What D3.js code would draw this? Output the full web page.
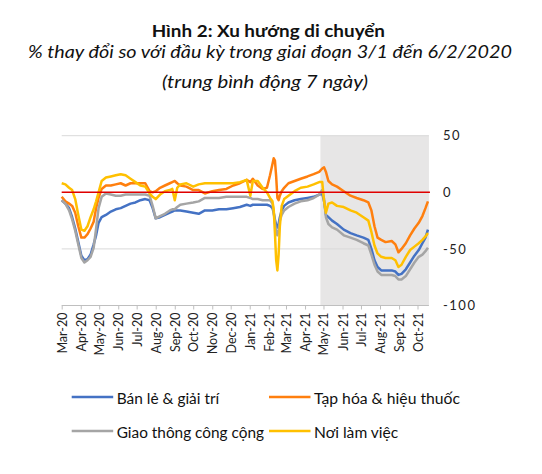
<!DOCTYPE html>
<html>
<head>
<meta charset="utf-8">
<script src="https://cdn.jsdelivr.net/npm/d3@7"></script>
<style>
  html, body { margin: 0; padding: 0; background: #fff; }
  svg { display: block; font-family: Lato, "Noto Sans", sans-serif; }
</style>
</head>
<body>
<svg id="chart" width="542" height="474"></svg>
<script>
// ---------------- DATA ----------------
const dates = [
 "2020-03-01","2020-03-07","2020-03-13","2020-03-18","2020-03-23","2020-03-28","2020-04-02","2020-04-07",
 "2020-04-12","2020-04-17","2020-04-22","2020-04-26","2020-04-30","2020-05-05","2020-05-12","2020-05-20",
 "2020-05-28","2020-06-05","2020-06-13","2020-06-21","2020-06-29","2020-07-07","2020-07-15","2020-07-22",
 "2020-07-27","2020-08-01","2020-08-08","2020-08-16","2020-08-24","2020-08-28","2020-09-01","2020-09-05",
 "2020-09-10","2020-09-20","2020-10-01","2020-10-10","2020-10-20","2020-11-01","2020-11-12","2020-11-24",
 "2020-12-05","2020-12-16","2020-12-27","2021-01-02","2021-01-06","2021-01-14","2021-01-22","2021-01-29",
 "2021-02-03","2021-02-07","2021-02-09","2021-02-11","2021-02-13","2021-02-15","2021-02-17","2021-02-19",
 "2021-02-22","2021-02-26","2021-03-05","2021-03-15","2021-03-25","2021-04-05","2021-04-15","2021-04-24",
 "2021-04-29","2021-05-02","2021-05-05","2021-05-09","2021-05-15","2021-05-23","2021-06-03","2021-06-14",
 "2021-06-24","2021-07-05","2021-07-13","2021-07-18","2021-07-23","2021-07-28","2021-08-03","2021-08-10",
 "2021-08-20","2021-08-26","2021-08-31","2021-09-05","2021-09-12","2021-09-19","2021-09-26","2021-10-03",
 "2021-10-09","2021-10-14","2021-10-18"
];
const retail = [
 -7,-10,-14,-22,-32,-44,-56,-60, -59,-55,-46,-38,-27,-22,-20,-17,
 -15,-14,-12,-10,-9,-7,-6,-7, -14,-23,-22,-20,-18,-17,-16,-16,
 -16,-17,-18,-19,-16,-16,-15,-15, -14,-13,-11,-12,-11,-11,-11,-11,
 -12,-14,-18,-24,-29,-31,-28,-22, -16,-12,-9,-7,-6,-5,-4,-2,
 -1,-8,-20,-22,-25,-28,-33,-36, -38,-40,-42,-50,-60,-66,-69,-69,
 -69,-70,-73,-72,-68,-62,-56,-51, -45,-40,-33
];
const grocery = [
 -4,-8,-10,-12,-18,-30,-40,-40, -37,-32,-26,-14,-5,3,6,6,
 7,8,6,8,8,8,8,1, 0,1,4,6,8,9,10,8,
 6,5,2,2,-1,1,2,3, 6,8,11,9,12,6,3,4,
 15,25,30,28,14,-5,-7,-3, 1,4,8,10,12,14,16,18,
 21,22,18,10,7,5,1,-3, -5,-7,-9,-16,-30,-40,-42,-44,
 -43,-46,-53,-50,-45,-38,-32,-27, -21,-14,-8
];
const transit = [
 -7,-10,-16,-24,-34,-46,-58,-62, -60,-57,-49,-32,-14,-4,-1,-2,
 -3,-3,-2,-2,-2,-2,-2,-3, -12,-23,-21,-19,-16,-15,-15,-13,
 -11,-10,-9,-8,-5,-5,-5,-4, -4,-4,-4,-5,-6,-6,-7,-7,
 -7,-10,-18,-27,-35,-38,-33,-25, -20,-16,-13,-10,-8,-7,-5,-2,
 2,-6,-22,-28,-31,-33,-38,-40, -42,-45,-47,-55,-64,-70,-73,-73,
 -73,-74,-77,-77,-74,-68,-62,-57, -55,-52,-49
];
const workplace = [
 8,7,4,2,-6,-20,-33,-34, -30,-22,-15,-8,0,10,13,14,
 15,16,15,12,9,6,5,-1, -4,-6,-2,1,2,3,-7,4,
 7,8,5,7,8,8,8,8, 8,9,11,-3,10,10,4,0,
 -5,-8,-15,-36,-60,-69,-55,-30, -12,-6,-3,1,4,5,7,9,
 9,-8,-18,-10,-9,-12,-13,-16, -18,-22,-25,-35,-47,-54,-57,-58,
 -58,-60,-66,-64,-57,-51,-48,-45, -42,-39,-36
];
const seriesNames = ["Bán lẻ & giải trí", "Tạp hóa & hiệu thuốc", "Giao thông công cộng", "Nơi làm việc"];
const seriesColors = ["#4472C4", "#FF7F0E", "#A5A5A5", "#FFC000"];
const xTickLabels = ["Mar-20","Apr-20","May-20","Jun-20","Jul-20","Aug-20","Sep-20","Oct-20","Nov-20","Dec-20",
 "Jan-21","Feb-21","Mar-21","Apr-21","May-21","Jun-21","Jul-21","Aug-21","Sep-21","Oct-21"];
const yTicks = [50, 0, -50, -100];
const shadeStart = "2021-04-26";
const titleText = "Hình 2: Xu hướng di chuyển";
const subtitle1 = "% thay đổi so với đầu kỳ trong giai đoạn 3/1 đến 6/2/2020";
const subtitle2 = "(trung bình động 7 ngày)";

// ---------------- CHART ----------------
const svg = d3.select("#chart");
const parse = d3.utcParse("%Y-%m-%d");
const parseTick = d3.utcParse("%b-%y");
const D = dates.map(parse);

const x = d3.scaleUtc()
  .domain([parseTick("Mar-20"), parseTick("Oct-21")])
  .range([61.7, 417.5]);
const y = d3.scaleLinear().domain([-100, 50]).range([305.5, 135.7]);

const xEnd = x(D[D.length - 1]) + 1;

// shaded region
svg.append("rect")
  .attr("x", x(parse(shadeStart)))
  .attr("y", y(50))
  .attr("width", xEnd - x(parse(shadeStart)))
  .attr("height", y(-100) - y(50))
  .attr("fill", "#e7e6e6");

// gridlines
svg.append("g").selectAll("line")
  .data(yTicks.filter(v => v !== -100))
  .join("line")
  .attr("x1", x.range()[0]).attr("x2", xEnd)
  .attr("y1", d => y(d)).attr("y2", d => y(d))
  .attr("stroke", "#d9d9d9").attr("stroke-width", 1);

// x axis
const tickDates = xTickLabels.map(parseTick);
const xAxis = d3.axisBottom(x)
  .tickValues(tickDates)
  .tickFormat((d, i) => xTickLabels[i])
  .tickSize(4)
  .tickSizeOuter(0);
const gx = svg.append("g").attr("transform", `translate(0,${y(-100)})`).call(xAxis);
gx.select(".domain").attr("d", `M${x.range()[0]},0H${xEnd}`).attr("stroke", "#bfbfbf");
gx.selectAll(".tick line").attr("stroke", "#bfbfbf");
gx.selectAll(".tick text")
  .attr("font-family", "Lato, sans-serif")
  .attr("font-size", 12.5)
  .attr("fill", "#222")
  .attr("text-anchor", "end")
  .attr("transform", "rotate(-90)")
  .attr("x", -7)
  .attr("y", 0)
  .attr("dy", "0.36em");

// y axis labels (right)
svg.append("g").selectAll("text")
  .data(yTicks)
  .join("text")
  .attr("x", 443)
  .attr("y", d => y(d))
  .attr("dy", "0.36em")
  .attr("font-size", 13)
  .attr("letter-spacing", 1.5)
  .attr("fill", "#222")
  .text(d => d);

// series lines
const allSeries = [retail, grocery, transit, workplace];
const line = d3.line().x((d, i) => x(D[i])).y(d => y(d)).curve(d3.curveLinear);
[0, 1, 2, 3].forEach(k => {
  svg.append("path")
    .datum(allSeries[k])
    .attr("d", line)
    .attr("fill", "none")
    .attr("stroke", seriesColors[k])
    .attr("stroke-width", 2.5)
    .attr("stroke-linejoin", "round");
});

// zero line
svg.append("line")
  .attr("x1", x.range()[0]).attr("x2", xEnd + 1)
  .attr("y1", y(0)).attr("y2", y(0))
  .attr("stroke", "#E00000").attr("stroke-width", 1.5);

// titles (stretched horizontally to match reference proportions)
function stretchedText(txt, x0, x1, baseline, size, opts) {
  const t = svg.append("text")
    .attr("x", x0).attr("y", baseline)
    .attr("font-size", size).attr("fill", "#111")
    .attr("textLength", x1 - x0).attr("lengthAdjust", "spacingAndGlyphs")
    .text(txt);
  if (opts && opts.bold) t.attr("font-weight", "bold");
  if (opts && opts.italic) t.attr("font-style", "italic");
  return t;
}
stretchedText(titleText, 151.7, 385, 36.7, 16.3, {bold: true});
stretchedText(subtitle1, 28, 512, 58, 17.5, {italic: true});
stretchedText(subtitle2, 162, 368, 88.3, 17.5, {italic: true});

// legend
const legendPos = [[71.7, 397], [269, 397], [71.7, 431], [269, 431]];
const legendTextEnd = [219.3, 460, 264, 398.3];
seriesNames.forEach((name, k) => {
  const [lx, ly] = legendPos[k];
  svg.append("line").attr("x1", lx).attr("x2", lx + 41.5).attr("y1", ly).attr("y2", ly)
    .attr("stroke", seriesColors[k]).attr("stroke-width", 2.5);
  stretchedText(name, lx + 45, legendTextEnd[k], ly + 7.3, 14.8, {});
});
</script>
</body>
</html>
